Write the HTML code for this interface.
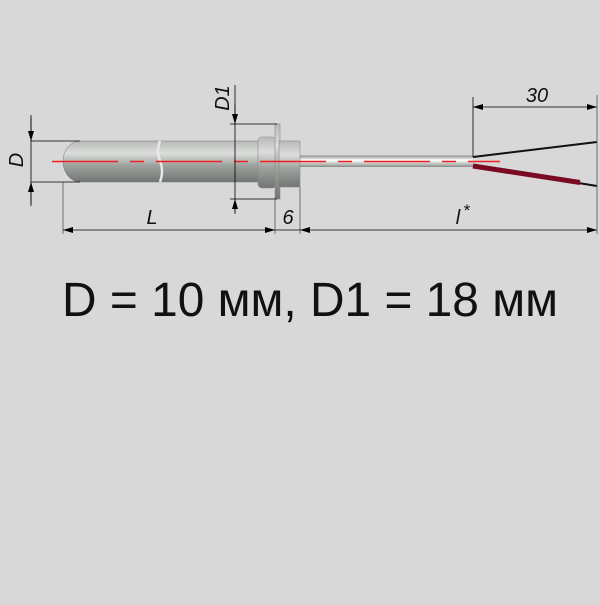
<!DOCTYPE html>
<html><head><meta charset="utf-8"><style>
body{margin:0;background:#d8d8d8;width:600px;height:600px;overflow:hidden}
</style></head><body>
<svg width="600" height="600" xmlns="http://www.w3.org/2000/svg" font-family="Liberation Sans, sans-serif">
<defs>
<linearGradient id="g" x1="0" y1="0" x2="0" y2="1">
<stop offset="0" stop-color="#b8bab8"/><stop offset="0.3" stop-color="#dcdedc"/><stop offset="0.6" stop-color="#9ea29e"/><stop offset="1" stop-color="#727672"/>
</linearGradient>
<linearGradient id="t" x1="0" y1="0" x2="0" y2="1">
<stop offset="0" stop-color="#8a8e8a"/><stop offset="0.4" stop-color="#ffffff"/><stop offset="1" stop-color="#8a8e8a"/>
</linearGradient>
<marker id="a" viewBox="0 0 10 6" refX="10" refY="3" markerWidth="16" markerHeight="6" orient="auto-start-reverse" markerUnits="userSpaceOnUse"><path d="M0,0L10,3L0,6z" fill="#000"/></marker>
</defs>
<rect width="600" height="600" fill="#d8d8d8"/>
<rect x="298" y="155.5" width="175" height="11.5" fill="url(#t)"/>
<path d="M80,141 H260 V182 H80 A17,20.5 0 0 1 80,141 Z" fill="url(#g)" stroke="#777" stroke-width="0.5"/>
<path d="M160,141 q-4,10 0,20 q4,10 0,21" fill="none" stroke="#e8e8e8" stroke-width="2.5"/>
<rect x="258" y="137" width="18" height="51" rx="4" fill="url(#g)" stroke="#888" stroke-width="0.6"/>
<rect x="275" y="124" width="5" height="75" fill="url(#g)" stroke="#888" stroke-width="0.6"/>
<rect x="279" y="141" width="21" height="46" fill="url(#g)" stroke="#888" stroke-width="0.6"/>
<line x1="52" y1="161.5" x2="500" y2="161.5" stroke="#ee2020" stroke-width="1.6" stroke-dasharray="66,12,14,12"/>
<line x1="473" y1="157" x2="597" y2="142" stroke="#111" stroke-width="2"/>
<line x1="473" y1="166" x2="597" y2="186" stroke="#111" stroke-width="2"/>
<line x1="473" y1="166" x2="580" y2="182.5" stroke="#7a0a22" stroke-width="5"/>
<g stroke="#000" stroke-width="0.8" fill="none">
<line x1="31" y1="115" x2="31" y2="206"/>
<line x1="31" y1="118" x2="31" y2="141" marker-end="url(#a)"/>
<line x1="31" y1="204" x2="31" y2="182" marker-end="url(#a)"/>
<line x1="31" y1="141" x2="80" y2="141"/><line x1="31" y1="182" x2="80" y2="182"/>
<line x1="235" y1="85" x2="235" y2="214"/>
<line x1="235" y1="105" x2="235" y2="124" marker-end="url(#a)"/>
<line x1="235" y1="212" x2="235" y2="199" marker-end="url(#a)"/>
<line x1="230" y1="124" x2="277" y2="124"/><line x1="230" y1="199" x2="277" y2="199"/>
<line x1="63" y1="182" x2="63" y2="234" stroke="#555"/>
<line x1="275" y1="199" x2="275" y2="234" stroke="#555"/>
<line x1="300" y1="187" x2="300" y2="234" stroke="#555"/>
<line x1="597" y1="95" x2="597" y2="234" stroke="#555"/>
<line x1="473" y1="97" x2="473" y2="157"/>
<line x1="63" y1="230" x2="275" y2="230" marker-start="url(#a)" marker-end="url(#a)"/>
<line x1="275" y1="230" x2="300" y2="230"/>
<line x1="300" y1="230" x2="597" y2="230" marker-start="url(#a)" marker-end="url(#a)"/>
<line x1="473" y1="107" x2="597" y2="107" marker-start="url(#a)" marker-end="url(#a)"/>
</g>
<g font-style="italic" font-size="20" fill="#111">
<text x="152" y="224" text-anchor="middle">L</text>
<text x="288" y="224" text-anchor="middle">6</text>
<text x="458" y="224" text-anchor="middle">l</text><text x="463" y="216" font-size="17">*</text>
<text x="537" y="102" text-anchor="middle">30</text>
<text transform="translate(23,160) rotate(-90)" text-anchor="middle">D</text>
<text transform="translate(229,98) rotate(-90)" text-anchor="middle">D1</text>
</g>
<text x="310" y="316" text-anchor="middle" font-size="48" fill="#111" textLength="496" lengthAdjust="spacingAndGlyphs">D = 10 мм, D1 = 18 мм</text>
</svg>
</body></html>
